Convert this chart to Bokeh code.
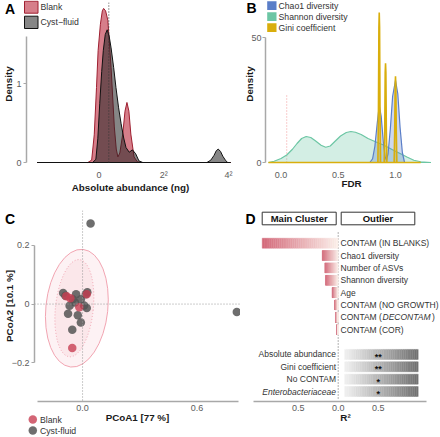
import numpy as np
from bokeh.plotting import figure
from bokeh.models import Range1d, Span, FixedTicker
from bokeh.layouts import row, column
from bokeh.embed import file_html
from bokeh.resources import INLINE
from bokeh.core.properties import value

# ---------------- DATA ----------------
# Panel A: density of absolute abundance, x on a square-root scale (sqrt ng)
a_ticks = [0, 2, 4]
a_tick_labels = ["0", "2²", "4²"]
a_blank_x = [-1.91, -0.35, -0.23, -0.15, -0.08, -0.03, 0.04, 0.10, 0.14, 0.20, 0.27, 0.37, 0.47,
             0.53, 0.58, 0.64, 0.73, 0.80, 0.86, 0.92, 0.98, 1.08, 1.18, 1.30, 4.06]
a_blank_d = [0, 0, 0.03, 0.35, 0.95, 1.42, 1.75, 1.92, 1.95, 1.92, 1.80, 1.20, 0.45,
             0.17, 0.07, 0.12, 0.36, 0.65, 0.76, 0.65, 0.36, 0.07, 0.01, 0, 0]
a_cyst_x = [-1.91, -0.20, -0.10, -0.04, 0.02, 0.08, 0.13, 0.19, 0.25, 0.31, 0.37, 0.45, 0.52,
            0.60, 0.68, 0.76, 0.83, 0.93, 1.03, 1.13, 1.23, 1.35, 3.33, 3.45, 3.55, 3.62, 3.68,
            3.75, 3.82, 3.90, 3.97, 4.06]
a_cyst_d = [0, 0, 0.04, 0.30, 0.75, 1.15, 1.42, 1.62, 1.68, 1.60, 1.45, 1.20, 0.95,
            0.70, 0.49, 0.31, 0.19, 0.13, 0.16, 0.11, 0.02, 0, 0, 0.03, 0.09, 0.15, 0.17,
            0.14, 0.08, 0.03, 0, 0]
a_median = 0.30
a_groups = ["Blank", "Cyst−fluid"]

# Panel B: density of FDR values
b_ticks = [0, 0.5, 1.0]
b_tick_labels = ["0.0", "0.5", "1.0"]
b_series = ["Chao1 diversity", "Shannon diversity", "Gini coefficient"]
b_chao1_x = [0.776, 0.80, 0.82, 0.84, 0.858, 0.875, 0.895, 0.91, 0.921, 0.935, 0.955, 0.975,
             1.0, 1.02, 1.04, 1.06, 1.079]
b_chao1_d = [0, 1.5, 6.5, 15.5, 22.9, 18.5, 7.5, 2.2, 0.9, 3.5, 13.5, 26.5,
             32.9, 27.5, 14.0, 4.0, 0]
b_shannon_x = [-0.11, -0.06, 0.0, 0.05, 0.10, 0.14, 0.18, 0.22, 0.26, 0.30, 0.35, 0.39, 0.43,
               0.47, 0.52, 0.57, 0.61, 0.65, 0.70, 0.76, 0.82, 0.90, 0.97, 1.04, 1.10, 1.16,
               1.22, 1.31]
b_shannon_d = [0, 0.5, 1.6, 3.0, 5.3, 7.6, 9.6, 10.4, 10.0, 8.7, 6.9, 6.1, 6.6,
               8.4, 10.6, 12.0, 12.4, 12.1, 11.2, 9.6, 8.4, 6.9, 5.2, 3.6, 2.2, 0.9,
               0.3, 0]
b_gini_x = [-0.11, 0.846, 0.851, 0.855, 0.858, 0.861, 0.865, 0.870, 0.901, 0.906, 0.910, 0.913,
            0.916, 0.920, 0.925, 0.988, 0.993, 0.997, 1.0, 1.003, 1.007, 1.012, 1.22]
b_gini_d = [0, 0, 20, 54, 60, 54, 20, 0, 0, 13, 36, 39.7,
            36, 13, 0, 0, 12, 31, 34.5, 31, 12, 0, 0]
b_fdr_cut = 0.05
b_fdr_cut_top = 27

# Panel C: PCoA
c_groups = ["Blank", "Cyst-fluid"]
c_blank_pc1 = [-0.085, -0.064, -0.017, 0.022, -0.054]
c_blank_pc2 = [0.027, 0.020, -0.011, 0.033, -0.149]
c_cyst_pc1 = [-0.102, -0.090, -0.068, -0.076, -0.051, -0.034, -0.025, -0.009, -0.054, 0.017,
              0.022, 0.008, -0.009, -0.040, 0.025, 0.042, 0.809]
c_cyst_pc2 = [0.038, 0.028, -0.006, -0.033, 0.016, 0.033, -0.038, -0.063, -0.087, 0.033,
              -0.013, -0.005, 0.016, 0.005, 0.040, 0.274, -0.027]
c_ell_x = [-0.030, -0.043]
c_ell_y = [-0.014, -0.014]
c_ell_w = [0.325, 0.198]
c_ell_h = [0.402, 0.332]
c_ell_angle = [-0.105, -0.105]

# Panel D: R² of variables
d_facets = ["Main Cluster", "Outlier"]
d_main_labels = ["CONTAM (IN BLANKS)", "Chao1 diversity", "Number of ASVs", "Shannon diversity",
                 "Age", "CONTAM (NO GROWTH)", "CONTAM (DECONTAM)", "CONTAM (COR)"]
d_main_r2 = [0.95, 0.20, 0.167, 0.159, 0.075, 0.042, 0.034, 0.015]
d_out_labels = ["Absolute abundance", "Gini coefficient", "No CONTAM", "Enterobacteriaceae"]
d_out_r2 = [1.0, 1.0, 1.0, 1.0]
d_out_sig = ["**", "**", "*", "*"]

panel_letters = ["A", "B", "C", "D"]

# ---------------- STYLE / LAYOUT ----------------
FONT = "Liberation Sans"
AX_COL = "#a8a8a8"
TICK_COL = "#5c5c5c"
TITLE_COL = "#1a1a1a"
RED = "#c0394b"
BLUE = "#5a7ec8"
GREEN = "#6cc6a4"
GOLD = "#d9ae0c"
PT_RED = "#c83e52"
PT_GRAY = "#555555"
TICK_FS = "9px"
TITLE_FS = "9.8px"
LEG_FS = "8.7px"
D_FS = 8.5


def make_panel(ox, oy, w, h, frame, xcal, ycal, **kw):
    L, T, R, B = frame
    (xv0, xp0), (xv1, xp1) = xcal
    (yv0, yp0), (yv1, yp1) = ycal
    fx = lambda px: xv0 + (px - xp0) * (xv1 - xv0) / (xp1 - xp0)
    fy = lambda py: yv0 + (py - yp0) * (yv1 - yv0) / (yp1 - yp0)
    p = figure(width=w, height=h, x_range=Range1d(fx(L), fx(R)), y_range=Range1d(fy(B), fy(T)),
               min_border_left=L - ox, min_border_right=ox + w - R,
               min_border_top=T - oy, min_border_bottom=oy + h - B,
               toolbar_location=None, output_backend="svg", title=None, **kw)
    p.outline_line_color = None
    p.xgrid.visible = False
    p.ygrid.visible = False
    for ax in list(p.xaxis) + list(p.yaxis):
        ax.axis_line_color = AX_COL
        ax.axis_line_width = 1.5
        ax.major_tick_line_color = AX_COL
        ax.major_tick_line_width = 1.2
        ax.major_tick_in = 0
        ax.major_tick_out = 3
        ax.minor_tick_line_color = None
        ax.major_label_text_font = FONT
        ax.major_label_text_font_size = TICK_FS
        ax.major_label_text_color = TICK_COL
        ax.axis_label_text_font = FONT
        ax.axis_label_text_font_size = TITLE_FS
        ax.axis_label_text_font_style = "bold"
        ax.axis_label_text_color = TITLE_COL
    return p, fx, fy


def mix(c0, c1, t):
    a = [int(c0[i:i + 2], 16) for i in (1, 3, 5)]
    b = [int(c1[i:i + 2], 16) for i in (1, 3, 5)]
    return "#%02x%02x%02x" % tuple(round(a[k] + (b[k] - a[k]) * t) for k in range(3))


def gradient_quads(p, starts, ends, ys, hgt, c_start, c_end, n=40):
    L, R, T, B, C = [], [], [], [], []
    for s, e, y in zip(starts, ends, ys):
        edges = np.linspace(s, e, n + 1)
        for k in range(n):
            L.append(edges[k]); R.append(edges[k + 1])
            T.append(y + hgt / 2); B.append(y - hgt / 2)
            C.append(mix(c_start, c_end, (k + 0.5) / n))
    p.quad(left=L, right=R, top=T, bottom=B, fill_color=C, line_color=C, line_width=0.4)


def txt(p, x, y, t, size=LEG_FS, style="normal", align="left", color="#333333", **kw):
    p.text(x=x, y=y, text=t, text_font=value(FONT), text_font_size=value(size),
           text_font_style=style, text_align=align, text_baseline="middle", text_color=color, **kw)

# ---------------- PANEL A ----------------
pA, fxA, fyA = make_panel(0, 0, 240, 200, (22, 2, 234, 165), ((0, 96), (2, 162)), ((0, 162), (1, 83)))
pA.patch(a_blank_x, a_blank_d, fill_color=RED, fill_alpha=0.65, line_color="#9e1f30", line_width=1)
pA.patch(a_cyst_x, a_cyst_d, fill_color="#222222", fill_alpha=0.55, line_color="#111111", line_width=1)
pA.segment(x0=[a_median], y0=[0], x1=[a_median], y1=[pA.y_range.end], line_color="#333333",
           line_dash="1 2", line_width=1)
pA.yaxis.bounds = (0, 1.6)
pA.yaxis.ticker = FixedTicker(ticks=[0, 1])
pA.yaxis.axis_label = "Density"
pA.yaxis.major_label_standoff = 2
pA.yaxis.axis_label_standoff = -1
pA.xaxis.axis_line_color = None
pA.xaxis.major_tick_line_color = None
pA.xaxis.ticker = FixedTicker(ticks=a_ticks)
pA.xaxis.major_label_overrides = dict(zip(a_ticks, a_tick_labels))
pA.xaxis.axis_label = "Absolute abundance (ng)"
pA.xaxis.major_label_standoff = 1
pA.xaxis.axis_label_standoff = -1

# ---------------- PANEL B ----------------
pB, fxB, fyB = make_panel(240, 0, 200, 200, (265, 2, 437, 165), ((0, 280.5), (1, 395)), ((0, 162), (50, 37)))
pB.segment(x0=[b_fdr_cut], y0=[0], x1=[b_fdr_cut], y1=[b_fdr_cut_top], line_color="#f29a9a",
           line_dash="1 2", line_width=1)
pB.patch(b_shannon_x, b_shannon_d, fill_color=GREEN, fill_alpha=0.3, line_color=GREEN, line_width=1.2)
pB.patch(b_chao1_x, b_chao1_d, fill_color=BLUE, fill_alpha=0.3, line_color=BLUE, line_width=1.2)
pB.patch(b_gini_x, b_gini_d, fill_color=GOLD, fill_alpha=0.35, line_color=GOLD, line_width=1.6)
pB.yaxis.bounds = (0, 50)
pB.yaxis.ticker = FixedTicker(ticks=[0, 50])
pB.yaxis.axis_label = "Density"
pB.yaxis.major_label_standoff = 1
pB.yaxis.axis_label_standoff = -7
pB.xaxis.axis_line_color = None
pB.xaxis.major_tick_line_color = None
pB.xaxis.ticker = FixedTicker(ticks=b_ticks)
pB.xaxis.major_label_overrides = dict(zip(b_ticks, b_tick_labels))
pB.xaxis.axis_label = "FDR"
pB.xaxis.major_label_standoff = 3
pB.xaxis.axis_label_standoff = -3

# ---------------- PANEL C ----------------
pC, fxC, fyC = make_panel(0, 200, 240, 237, (27, 203, 240, 401), ((0, 76.7), (0.6, 195)), ((0, 300), (0.2, 239)))
pC.ellipse(x=c_ell_x[:1], y=c_ell_y[:1], width=c_ell_w[:1], height=c_ell_h[:1], angle=c_ell_angle[:1],
           fill_color="#f4a9b6", fill_alpha=0.15, line_color="#f2a5b2", line_width=1)
pC.ellipse(x=c_ell_x[1:], y=c_ell_y[1:], width=c_ell_w[1:], height=c_ell_h[1:], angle=c_ell_angle[1:],
           fill_color="#f4a9b6", fill_alpha=0.15, line_color="#f2a5b2", line_width=1, line_dash="1 2")
pC.add_layout(Span(location=0, dimension="height", line_color="#999999", line_dash="1 2", line_width=1))
pC.add_layout(Span(location=0, dimension="width", line_color="#999999", line_dash="1 2", line_width=1))
pC.scatter(c_cyst_pc1, c_cyst_pc2, size=8.5, fill_color=PT_GRAY, fill_alpha=0.85, line_color=None)
pC.scatter(c_blank_pc1, c_blank_pc2, size=8.5, fill_color=PT_RED, fill_alpha=0.8, line_color=None)
pC.yaxis.bounds = (-0.2, 0.2)
pC.yaxis.ticker = FixedTicker(ticks=[-0.2, 0, 0.2])
pC.yaxis.major_label_overrides = {-0.2: "−0.2", 0: "0", 0.2: "0.2"}
pC.yaxis.axis_label = "PCoA2 [10.1 %]"
pC.yaxis.major_label_standoff = 2
pC.yaxis.axis_label_standoff = -6
pC.xaxis.bounds = (-0.237, 0.82)
pC.xaxis.ticker = FixedTicker(ticks=[0, 0.6])
pC.xaxis.major_label_overrides = {0: "0.0", 0.6: "0.6"}
pC.xaxis.major_tick_out = 0
pC.xaxis.major_label_standoff = 3
pC.xaxis.axis_label = "PCoA1 [77 %]"
pC.xaxis.axis_label_standoff = -2

# ---------------- PANEL D ----------------
pD, fxD, fyD = make_panel(240, 200, 200, 237, (250, 210, 440, 401), ((-0.5, 297.7), (0.5, 377.7)),
                          ((0, 242.7), (-12, 391)), y_axis_location=None)
PXD = 80.0
main_y = [-i for i in range(len(d_main_r2))]
out_y = [-(len(d_main_r2) + 1 + j) for j in range(len(d_out_r2))]
BAR_H = 0.81
strip_l = [fxD(261.7), fxD(340.7)]
strip_r = [fxD(335.7), fxD(414.3)]
pD.quad(left=strip_l, right=strip_r, top=[fyD(211.7)] * 2, bottom=[fyD(224.3)] * 2,
        fill_color="white", line_color="#333333", line_width=1)
txt(pD, [(a + b) / 2 for a, b in zip(strip_l, strip_r)], [fyD(218)] * 2, d_facets,
    size="9.5px", style="bold", align="center", color="#111111")
pD.segment(x0=[0], y0=[fyD(232)], x1=[0], y1=[fyD(400)], line_color="#666666", line_dash="1 2", line_width=1)
gradient_quads(pD, [-v for v in d_main_r2], [0] * len(d_main_r2), main_y, BAR_H, "#d4697a", "#fbf0ea")
gradient_quads(pD, [0.08] * len(d_out_r2), d_out_r2, out_y, BAR_H, "#f2f2f2", "#707070")

AW = {'C': .722, 'O': .778, 'N': .722, 'T': .611, 'A': .667, 'M': .833, ' ': .278, '(': .333,
      ')': .333, 'D': .722, 'E': .667}
def tw(s):
    return sum(AW[ch] for ch in s) * D_FS / PXD

x_lab = fxD(340)
D_FS_S = "%.1fpx" % D_FS
plain_main = [(l, y) for l, y in zip(d_main_labels, main_y) if "DECONTAM" not in l]
txt(pD, [x_lab] * len(plain_main), [y for _, y in plain_main], [l for l, _ in plain_main], size=D_FS_S)
for l, y in zip(d_main_labels, main_y):
    if "DECONTAM" in l:
        pre, rest = l.split("(")
        pre = pre + "("
        mid = rest.rstrip(")")
        xs = [x_lab, x_lab + tw(pre), x_lab + tw(pre) + tw(mid) + 0.01]
        for xx, tt, st in zip(xs, [pre, mid, ")"], ["normal", "italic", "normal"]):
            txt(pD, [xx], [y], [tt], size=D_FS_S, style=st)
x_olab = fxD(335.5)
for l, y in zip(d_out_labels, out_y):
    st = "italic" if l == "Enterobacteriaceae" else "normal"
    txt(pD, [x_olab], [y], [l], size=D_FS_S, style=st, align="right")
txt(pD, [0.5] * len(out_y), out_y, d_out_sig, size="9px", style="bold", align="center",
    color="#111111", y_offset=2.5)
pD.xaxis.bounds = (-1.055, 1.1)
pD.xaxis.ticker = FixedTicker(ticks=[-0.5, 0, 0.5])
pD.xaxis.major_label_overrides = {-0.5: "0.5", 0: "0.0", 0.5: "0.5"}
pD.xaxis.major_tick_out = 0
pD.xaxis.major_label_standoff = 3
pD.xaxis.axis_label = "R²"
pD.xaxis.axis_label_standoff = -2

# ---------------- OVERLAY: panel letters and legends (page coordinates) ----------------
ov = figure(width=440, height=437, x_range=Range1d(0, 440), y_range=Range1d(437, 0),
            toolbar_location=None, output_backend="svg", title=None,
            x_axis_location=None, y_axis_location=None, min_border=0,
            background_fill_color=None, border_fill_color=None, outline_line_color=None,
            margin=(-437, 0, 0, 0))
ov.grid.visible = False
txt(ov, [9.5, 251, 9.5, 250], [8, 7, 218, 218], panel_letters, size="14px", style="bold",
    align="center", color="#000000")
# legend A
ov.quad(left=[24], right=[37.5], top=[0.7], bottom=[12.7], fill_color=RED, fill_alpha=0.65,
        line_color="#9e1f30", line_width=1)
ov.quad(left=[24], right=[37.5], top=[15.7], bottom=[28], fill_color="#222222", fill_alpha=0.55,
        line_color="#111111", line_width=1)
txt(ov, [40, 40], [6.7, 21.8], a_groups)
# legend B
ov.quad(left=[266.7] * 3, right=[276] * 3, top=[0.7, 11.7, 22.7], bottom=[9.5, 20.5, 31.5],
        fill_color=[BLUE, GREEN, GOLD], line_color=None)
txt(ov, [278] * 3, [5.2, 16.2, 27.2], b_series)
# legend C
ov.scatter(x=[32.3, 32.3], y=[419, 430], size=8.5, fill_color=[PT_RED, PT_GRAY],
           fill_alpha=[0.8, 0.85], line_color=None)
txt(ov, [39.5, 39.5], [419.5, 430.5], c_groups)

layout = column(row(pA, pB), row(pC, pD), ov)
open("out.html", "w").write(file_html(layout, INLINE))
